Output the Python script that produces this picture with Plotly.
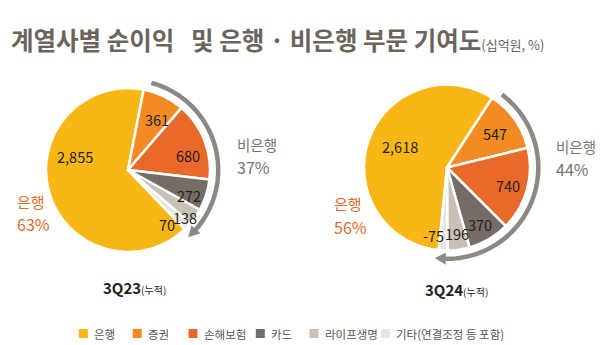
import math
import plotly.graph_objects as go

# ---------------- data ----------------
categories = ["은행", "증권", "손해보험", "카드", "라이프생명", "기타(연결조정 등 포함)"]
values_3q23 = [2855, 361, 680, 272, 138, 70]
values_3q24 = [2618, 547, 740, 370, 196, -75]
periods = ["3Q23", "3Q24"]
bank_share = [63, 56]
nonbank_share = [37, 44]

# ---------------- style ----------------
W, H = 600, 345
FONT = "Noto Sans CJK KR"
colors = ["#F9B617", "#F28B24", "#E9692B", "#756D65", "#C8BFB5", "#E6E5E3"]
arrow_color = "#8E8883"
# pie geometry (px)
pies = [dict(cx=128, cy=170, r=82, nb_start=11),
        dict(cx=447, cy=167.5, r=83, nb_start=33)]
# value label placement: radial fraction and angle nudge per slice
label_frac = [[0.666, 0.71, 0.755, 0.80, 0.90, 0.82],
              [0.62, 0.705, 0.77, 0.79, 0.80, 0.84]]
label_dang = [[30.5, 3.6, 8.2, 4.7, 5.0, 11.6],
              [5.3, 0.4, 1.2, 0.0, -0.4, 8.6]]
# share labels: (x, y of word line, y of percent line)
bank_lbl_pos = [(15, 201.5, 223.5), (332, 203.5, 226.5)]
nonbank_lbl_pos = [(235, 144.5, 167.5), (554, 146.5, 168.5)]
period_dx, period_y = [6, 9], [287, 289]
legend_sq_x = [78.8, 132.7, 188.5, 255.8, 309.6, 380.8]
legend_y = 333.5


def paper(x, y):
    return x / W, 1 - y / H


def polar(cx, cy, rad, ang):
    a = math.radians(ang)
    return cx + rad * math.sin(a), cy - rad * math.cos(a)


def text_ann(x, y, text, size, color, xanchor="left", bold=False):
    px_, py_ = paper(x, y)
    return dict(x=px_, y=py_, xref="paper", yref="paper", showarrow=False,
                text=text, font=dict(family=FONT, size=size, color=color),
                xanchor=xanchor, yanchor="middle")


fig = go.Figure()
annotations = []
shapes = []

for i, vals in enumerate([values_3q23, values_3q24]):
    p = pies[i]
    cx, cy, r = p["cx"], p["cy"], p["r"]
    sizes = [abs(v) for v in vals]
    total = sum(sizes)
    rot = p["nb_start"] - 360 * sizes[0] / total
    fig.add_trace(go.Pie(
        labels=categories, values=sizes, sort=False, direction="clockwise",
        rotation=rot,
        marker=dict(colors=colors, line=dict(color="white", width=2.5)),
        textinfo="none", hoverinfo="label+text", text=[f"{v:,}" for v in vals],
        domain=dict(x=[(cx - r) / W, (cx + r) / W],
                    y=[1 - (cy + r) / H, 1 - (cy - r) / H]),
        showlegend=False,
    ))
    # value labels
    ang = rot
    for j, v in enumerate(vals):
        span = 360 * sizes[j] / total
        mid = ang + span / 2 + label_dang[i][j]
        ang += span
        x, y = polar(cx, cy, label_frac[i][j] * r, mid)
        annotations.append(text_ann(x, y, f"{v:,}", 14.5, "#231F1C", "center"))
    # arrow arc over non-bank slices
    nb_end = rot + 360
    R = r * 1.1
    a0 = p["nb_start"] + 4
    tip = nb_end + 2
    head_len = 11
    head_deg = math.degrees(head_len / R)
    a1 = tip - head_deg + 1
    n = 60
    pts = [paper(*polar(cx, cy, R, a0 + (a1 - a0) * k / n)) for k in range(n + 1)]
    path = "M " + " L ".join(f"{x:.5f},{y:.5f}" for x, y in pts)
    shapes.append(dict(type="path", path=path, xref="paper", yref="paper",
                       line=dict(color=arrow_color, width=4.5)))
    bx = tip - head_deg
    t = paper(*polar(cx, cy, R, tip))
    b1 = paper(*polar(cx, cy, R + 6, bx))
    b2 = paper(*polar(cx, cy, R - 6, bx))
    shapes.append(dict(type="path", xref="paper", yref="paper",
                       path=f"M {t[0]:.5f},{t[1]:.5f} L {b1[0]:.5f},{b1[1]:.5f} L {b2[0]:.5f},{b2[1]:.5f} Z",
                       fillcolor=arrow_color, line=dict(width=0)))
    # bank / non-bank share labels
    bx_, by1, by2 = bank_lbl_pos[i]
    annotations.append(text_ann(bx_, by1, "은행", 15, "#E8692B"))
    annotations.append(text_ann(bx_, by2, f"{bank_share[i]}%", 16, "#E8692B"))
    nx_, ny1, ny2 = nonbank_lbl_pos[i]
    annotations.append(text_ann(nx_, ny1, "비은행", 14.5, "#7A736C"))
    annotations.append(text_ann(nx_, ny2, f"{nonbank_share[i]}%", 16, "#7A736C"))
    # period label
    annotations.append(text_ann(
        cx + period_dx[i], period_y[i],
        f"<b>{periods[i]}</b><span style='font-size:10px'>(누적)</span>",
        15, "#231F1C", "center"))

# title
annotations.append(text_ann(
    9, 40,
    "<b>계열사별 순이익\u00a0\u00a0\u00a0및 은행 · 비은행 부문 기여도</b>"
    "<span style='font-size:13px'>(십억원, %)</span>",
    24.5, "#6B645D"))

# legend (manual)
sq = 9
for k, name in enumerate(categories):
    x0 = legend_sq_x[k]
    p0 = paper(x0, legend_y - sq / 2)
    p1 = paper(x0 + sq, legend_y + sq / 2)
    shapes.append(dict(type="rect", xref="paper", yref="paper",
                       x0=p0[0], x1=p1[0], y0=p1[1], y1=p0[1],
                       fillcolor=colors[k], line=dict(width=0)))
    annotations.append(text_ann(x0 + sq + 4, legend_y, name, 11.5, "#555555"))

fig.update_layout(
    width=W, height=H, margin=dict(l=0, r=0, t=0, b=0),
    paper_bgcolor="white", plot_bgcolor="white", showlegend=False,
    annotations=annotations, shapes=shapes,
    font=dict(family=FONT),
)
fig.write_html("out.html")
